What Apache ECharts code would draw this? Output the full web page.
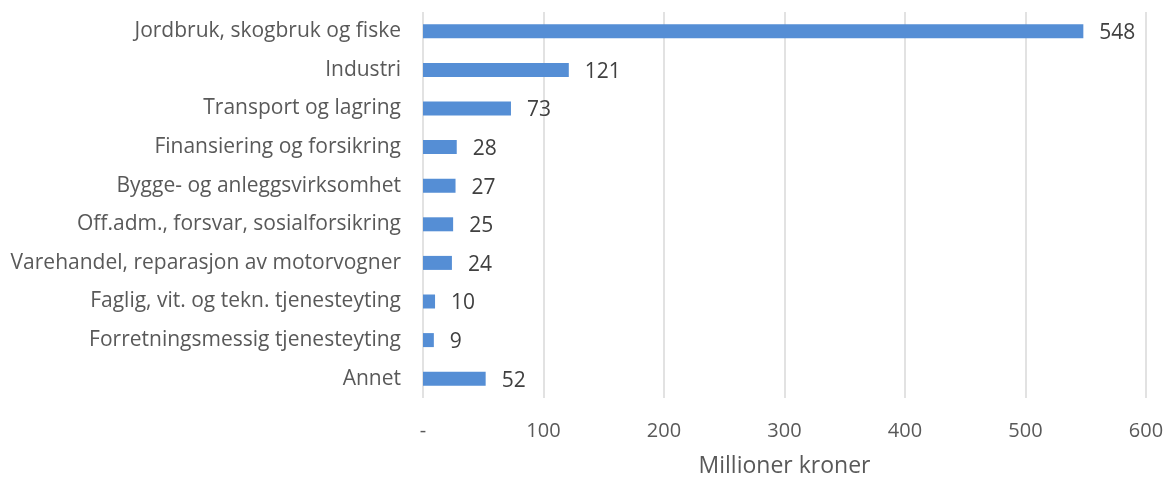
<!DOCTYPE html>
<html>
<head>
<meta charset="utf-8">
<script src="https://cdn.jsdelivr.net/npm/echarts@6/dist/echarts.min.js"></script>
<style>
  html, body { margin: 0; padding: 0; background: #fff; }
  #chart { width: 1167px; height: 477px; }
</style>
</head>
<body>
<div id="chart"></div>
<script>
// næringer, øverst først
let categories = [
  'Jordbruk, skogbruk og fiske',
  'Industri',
  'Transport og lagring',
  'Finansiering og forsikring',
  'Bygge- og anleggsvirksomhet',
  'Off.adm., forsvar, sosialforsikring',
  'Varehandel, reparasjon av motorvogner',
  'Faglig, vit. og tekn. tjenesteyting',
  'Forretningsmessig tjenesteyting',
  'Annet'
]
let values = [548, 121, 73, 28, 27, 25, 24, 10, 9, 52]
let xTicks = [0, 100, 200, 300, 400, 500, 600]

let font = '"Open Sans", sans-serif'
let chart = echarts.init(document.getElementById('chart'))
let option = {
  animation: false,
  textStyle: { fontFamily: font },
  grid: { left: 423, right: 21, top: 12, bottom: 79, outerBoundsMode: 'none', containLabel: false },
  xAxis: {
    type: 'value',
    min: xTicks[0],
    max: xTicks[xTicks.length - 1],
    interval: 100,
    name: 'Millioner kroner',
    nameLocation: 'middle',
    nameGap: 57,
    nameTextStyle: { fontSize: 23, color: '#595959', fontFamily: font },
    axisLine: { show: false },
    axisTick: { show: false },
    axisLabel: {
      fontSize: 20, color: '#595959', margin: 23, fontFamily: font,
      formatter: v => v === 0 ? '-' : String(v)
    },
    splitLine: { show: true, lineStyle: { color: '#d9d9d9', width: 1.5 } }
  },
  yAxis: {
    type: 'category',
    data: categories,
    inverse: true,
    axisLine: { show: false },
    axisTick: { show: false },
    axisLabel: { fontSize: 21, color: '#595959', margin: 22, fontFamily: font, padding: [4, 0, 0, 0] }
  },
  series: [{
    type: 'bar',
    data: values,
    barWidth: 14,
    itemStyle: { color: '#558ed5' },
    label: {
      show: true,
      position: 'right',
      distance: 16,
      fontSize: 21,
      color: '#404040',
      fontFamily: font,
      offset: [0, 2]
    }
  }]
}
chart.setOption(option)
</script>
</body>
</html>
